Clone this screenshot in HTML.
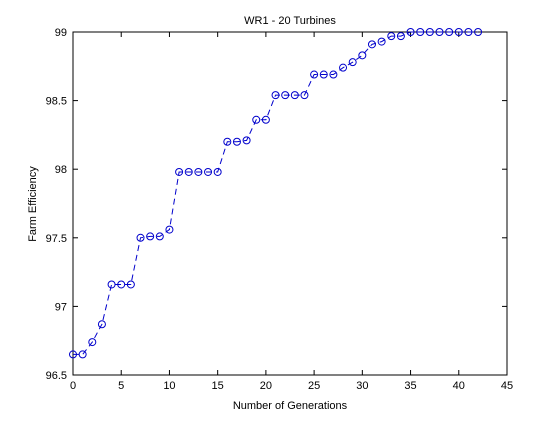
<!DOCTYPE html>
<html><head><meta charset="utf-8"><style>
body{margin:0;background:#fff;}
svg text{font-family:"Liberation Sans",sans-serif;font-size:11px;fill:#000;}
</style></head><body>
<svg width="560" height="420">
<rect x="0" y="0" width="560" height="420" fill="#fff"/>
<g id="axes"></g>
<g id="series"></g>
<text x="290" y="24" text-anchor="middle">WR1 - 20 Turbines</text>
<text x="290" y="409" text-anchor="middle">Number of Generations</text>
<text transform="translate(36,204) rotate(-90)" text-anchor="middle">Farm Efficiency</text>
</svg>
<script>
const generations=[0,1,2,3,4,5,6,7,8,9,10,11,12,13,14,15,16,17,18,19,20,21,22,23,24,25,26,27,28,29,30,31,32,33,34,35,36,37,38,39,40,41,42];
const efficiency=[96.65,96.65,96.74,96.87,97.16,97.16,97.16,97.50,97.51,97.51,97.56,97.98,97.98,97.98,97.98,97.98,98.20,98.20,98.21,98.36,98.36,98.54,98.54,98.54,98.54,98.69,98.69,98.69,98.74,98.78,98.83,98.91,98.93,98.97,98.97,99.0,99.0,99.0,99.0,99.0,99.0,99.0,99.0];
const xTicks=[0,5,10,15,20,25,30,35,40,45];
const yTicks=[96.5,97,97.5,98,98.5,99];
const yTickLabels=["96.5","97","97.5","98","98.5","99"];
const L=73,R=507,T=32,B=375;
const sx=v=>L+(v-0)/(45-0)*(R-L);
const sy=v=>B-(v-96.5)/(99-96.5)*(B-T);
const NS="http://www.w3.org/2000/svg";
const ax=document.getElementById('axes');
function mk(tag,attrs,parent){const e=document.createElementNS(NS,tag);for(const k in attrs)e.setAttribute(k,attrs[k]);parent.appendChild(e);return e;}
const frame=mk('rect',{x:L,y:T,width:R-L,height:B-T,fill:'none',stroke:'#000','stroke-width':1},ax);


xTicks.forEach(t=>{
 const x=sx(t);
 mk('line',{x1:x,x2:x,y1:B,y2:B-5,stroke:'#000'},ax);
 mk('line',{x1:x,x2:x,y1:T,y2:T+5,stroke:'#000'},ax);
 const tx=mk('text',{x:x,y:B+14,'text-anchor':'middle'},ax);
 tx.textContent=t;
 
 
});
yTicks.forEach((t,i)=>{
 const y=sy(t);
 mk('line',{x1:L,x2:L+5,y1:y,y2:y,stroke:'#000'},ax);
 mk('line',{x1:R,x2:R-5,y1:y,y2:y,stroke:'#000'},ax);
 const tx=mk('text',{x:L-6,y:y+4,'text-anchor':'end'},ax);
 tx.textContent=yTickLabels[i];
 
 
});
const sg=document.getElementById('series');
const pts=generations.map((g,i)=>sx(g)+','+sy(efficiency[i])).join(' ');
const line=mk('polyline',{points:pts,fill:'none',stroke:'#0000cc','stroke-width':1,'stroke-dasharray':'6,4'},sg);


generations.forEach((g,i)=>{
 const c=mk('circle',{cx:sx(g),cy:sy(efficiency[i]),r:3.5,fill:'none',stroke:'#0000cc','stroke-width':1},sg);
 
 
});
</script>
</body></html>
